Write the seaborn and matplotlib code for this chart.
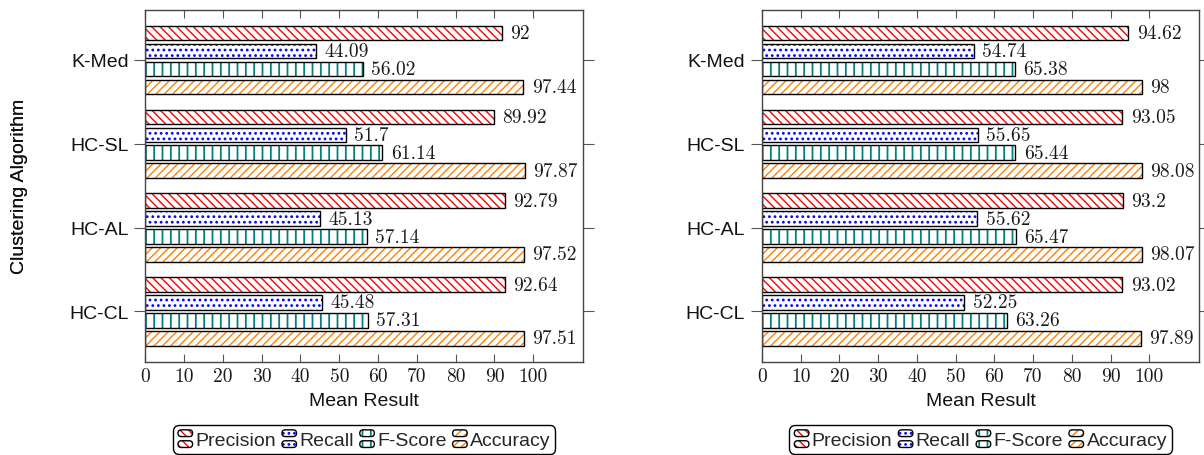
import numpy as np
import pandas as pd
import seaborn as sns
import matplotlib
matplotlib.use("Agg")
import matplotlib.pyplot as plt
from matplotlib.patches import Rectangle, FancyBboxPatch, Patch
from matplotlib.legend_handler import HandlerBase

# ---------------- data ----------------
algorithms = ["K-Med", "HC-SL", "HC-AL", "HC-CL"]
metrics = ["Precision", "Recall", "F-Score", "Accuracy"]

left_precision = [92, 89.92, 92.79, 92.64]
left_recall = [44.09, 51.7, 45.13, 45.48]
left_fscore = [56.02, 61.14, 57.14, 57.31]
left_accuracy = [97.44, 97.87, 97.52, 97.51]

right_precision = [94.62, 93.05, 93.2, 93.02]
right_recall = [54.74, 55.65, 55.62, 52.25]
right_fscore = [65.38, 65.44, 65.47, 63.26]
right_accuracy = [98, 98.08, 98.07, 97.89]

x_ticks = [0, 10, 20, 30, 40, 50, 60, 70, 80, 90, 100]

# ---------------- style ----------------
sns.set_theme(style="ticks")
plt.rcParams["font.family"] = ["Liberation Sans", "DejaVu Sans"]
plt.rcParams["axes.unicode_minus"] = False
plt.rcParams["hatch.linewidth"] = 1.0

hatch_colors = {"Precision": "#ff0000", "Recall": "#0000ff",
                "F-Score": "#008080", "Accuracy": "#ff8000"}
hatches = {"Precision": "\\\\\\\\", "Recall": "...",
           "F-Score": "||", "Accuracy": "////"}
hatch_lw = {"Precision": 1.0, "Recall": 1.2, "F-Score": 1.3, "Accuracy": 1.0}

FS = 14
NUMFONT = "cmr10"


def set_hlw(p, lw):
    if hasattr(p, "set_hatch_linewidth"):
        try:
            p.set_hatch_linewidth(lw)
            return
        except Exception:
            pass
    p._hatch_linewidth = lw


def make_df(prec, rec, fs, acc):
    rows = []
    for i, a in enumerate(algorithms):
        for m, vals in zip(metrics, [prec, rec, fs, acc]):
            rows.append({"Algorithm": a, "Metric": m, "Value": vals[i]})
    return pd.DataFrame(rows)


class TwoBarHandler(HandlerBase):
    def create_artists(self, legend, orig_handle, xdescent, ydescent,
                       width, height, fontsize, trans):
        arts = []
        h = height * 0.40
        m = orig_handle.get_label()
        for yy in (-ydescent - height * 0.05, -ydescent + height * 0.60):
            inner = FancyBboxPatch((-xdescent, yy), width, h,
                                   boxstyle=f"round,pad=0,rounding_size={h / 2}",
                                   facecolor="white",
                                   edgecolor=hatch_colors[m],
                                   hatch=hatches[m], lw=0,
                                   transform=trans)
            set_hlw(inner, hatch_lw[m])
            outer = FancyBboxPatch((-xdescent, yy), width, h,
                                   boxstyle=f"round,pad=0,rounding_size={h / 2}",
                                   facecolor="none", edgecolor="black", lw=1.0,
                                   transform=trans)
            arts += [inner, outer]
        return arts


fig = plt.figure(figsize=(12.04, 4.56), dpi=100)
W, H = 1204, 456
ax_bottom = (H - 362.7) / H
ax_height = (362.7 - 10.7) / H
axes_specs = [
    (145.3, 438.0, make_df(left_precision, left_recall, left_fscore, left_accuracy)),
    (762.0, 437.3, make_df(right_precision, right_recall, right_fscore, right_accuracy)),
]

for x0, w, df in axes_specs:
    ax = fig.add_axes([x0 / W, ax_bottom, w / W, ax_height])
    sns.barplot(data=df, y="Algorithm", x="Value", hue="Metric",
                order=algorithms, hue_order=metrics, orient="h",
                palette=["white"] * 4, edgecolor="black", linewidth=0,
                width=0.855, gap=0.19, errorbar=None, legend=False, ax=ax)

    for cont, m in zip(ax.containers, metrics):
        for p in cont.patches:
            p.set_facecolor("white")
            p.set_edgecolor(hatch_colors[m])
            p.set_hatch(hatches[m])
            p.set_linewidth(0)
            set_hlw(p, hatch_lw[m])
            ax.add_patch(Rectangle(p.get_xy(), p.get_width(), p.get_height(),
                                   fill=False, edgecolor="black", lw=1.0,
                                   zorder=p.get_zorder() + 0.1))
        vals = [v for v in cont.datavalues]
        ax.bar_label(cont, labels=[f"{v:g}" for v in vals], padding=6,
                     fontsize=FS, fontfamily=NUMFONT, color="#1a1a1a")

    ax.set_xlim(0, 112.9)
    ax.set_ylim(3.6, -0.6)
    ax.set_xticks(x_ticks)
    ax.set_xticklabels([str(t) for t in x_ticks], fontfamily=NUMFONT, fontsize=FS)
    ax.tick_params(axis="x", which="both", direction="in", top=True, bottom=True,
                   length=6, width=0.8, color="#555555", pad=4, labelcolor="#1a1a1a")
    ax.tick_params(axis="y", which="both", direction="out", left=True, right=True,
                   length=8, width=0.8, color="#555555", pad=4, labelsize=FS,
                   labelcolor="#111111")
    for s in ax.spines.values():
        s.set_visible(True)
        s.set_color("#444444")
        s.set_linewidth(1.0)

    ax.set_xlabel("Mean Result", fontsize=FS, color="#111111")
    ax.set_ylabel("Clustering Algorithm", fontsize=FS, color="#111111")
    ax.xaxis.set_label_coords(0.5, -0.086)
    ax.yaxis.set_label_coords((28 - x0) / w, 0.5)

    proxies = [Patch(facecolor="white", edgecolor=hatch_colors[m],
                     hatch=hatches[m], label=m) for m in metrics]
    cx = (x0 + w / 2) / W
    leg = ax.legend(handles=proxies, labels=metrics, ncol=4,
                    loc="upper center", bbox_to_anchor=(cx, (H - 426) / H),
                    bbox_transform=fig.transFigure, borderaxespad=0,
                    handler_map={Patch: TwoBarHandler()},
                    handlelength=0.75, handleheight=0.95, handletextpad=0.15,
                    columnspacing=0.3, borderpad=0.25, fontsize=FS,
                    frameon=True, fancybox=True, framealpha=1)
    leg.get_frame().set_edgecolor("black")
    leg.get_frame().set_linewidth(1.0)
    leg.get_frame().set_boxstyle("round,pad=0,rounding_size=0.3")

fig.savefig("out.png", dpi=100)
